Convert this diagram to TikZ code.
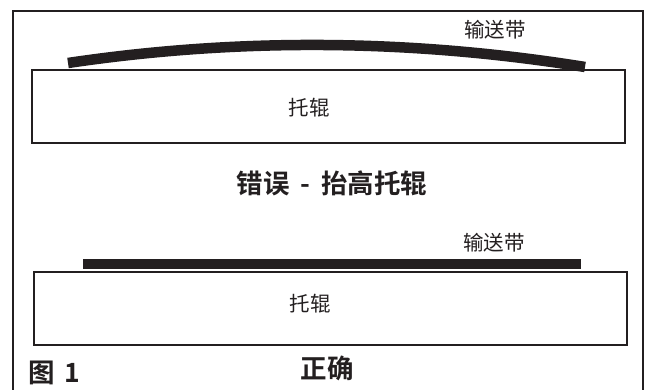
\documentclass[tikz,border=0pt]{standalone}
\usepackage{fontspec}
\setmainfont{Noto Sans CJK SC}[BoldFont={* Bold}]
\begin{document}
\begin{tikzpicture}[x=1pt,y=-1pt]
\definecolor{ink}{HTML}{231F20}
\tikzset{
 frame/.style={draw=ink, line width=2.4pt},
 roller/.style={draw=ink, line width=2.6pt, rectangle, minimum width=593pt, minimum height=73pt, inner sep=0pt},
 beltline/.style={draw=ink, line width=10.5pt},
 beltbar/.style={fill=ink, rectangle, minimum width=498pt, minimum height=10pt, inner sep=0pt},
 lbl/.style={font=\fontsize{20.5}{21}\selectfont, text=ink, inner sep=0pt},
 ttl/.style={font=\bfseries\fontsize{26.5}{28}\selectfont, text=ink, inner sep=0pt},
}
\useasboundingbox (0,0) rectangle (646,390);
\fill[white] (0,0) rectangle (646,390);
% outer frame (open at the bottom)
\coordinate (fbl) at (12.7,392);
\coordinate (ftl) at (12.7,11);
\coordinate (ftr) at (643,11);
\coordinate (fbr) at (643,392);
\draw[frame] (fbl) -- (ftl) -- (ftr) -- (fbr);
% upper: wrong
\node[roller] (r1) at (328.5,106.5) {};
\coordinate (bl1) at (68,63);
\coordinate (br1) at (585,67);
\draw[beltline] (bl1) .. controls (238.3,37.7) and (410.7,39) .. (br1);
\node[lbl] (beltlbl1) at (495,30) {输送带};
\node[lbl] (rlbl1) at (309,107.5) {托辊};
\node[ttl] (t1) at (332,183) {错误\hspace{11pt}-\hspace{11pt}抬高托辊};
% lower: right
\node[roller] (r2) at (330.5,308.5) {};
\node[beltbar] (belt2) at (332,264) {};
\node[lbl] (beltlbl2) at (494,243) {输送带};
\node[lbl] (rlbl2) at (310,304) {托辊};
\node[ttl] (t2) at (327,368) {正确};
\node[ttl, anchor=west] (fig) at (28,373) {图\hspace{10pt}1};
\end{tikzpicture}
\end{document}
